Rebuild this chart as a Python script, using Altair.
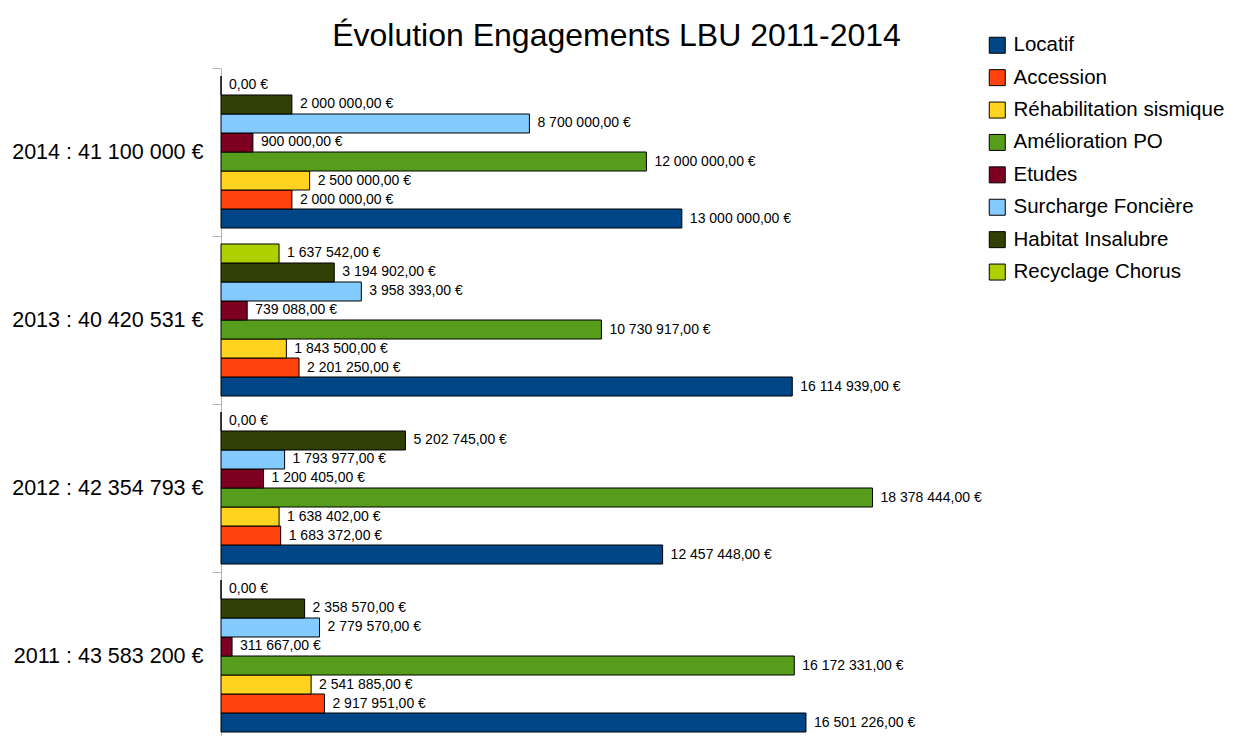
import altair as alt
import pandas as pd

years = ["2014", "2013", "2012", "2011"]
totals = ["41 100 000 €", "40 420 531 €", "42 354 793 €", "43 583 200 €"]
series = ["Locatif", "Accession", "Réhabilitation sismique", "Amélioration PO",
          "Etudes", "Surcharge Foncière", "Habitat Insalubre", "Recyclage Chorus"]
colors = ["#004586", "#ff420e", "#ffd320", "#579d1c",
          "#7e0021", "#83caff", "#314004", "#aecf00"]

# values per year, in series order
v2014 = [13000000, 2000000, 2500000, 12000000, 900000, 8700000, 2000000, 0]
v2013 = [16114939, 2201250, 1843500, 10730917, 739088, 3958393, 3194902, 1637542]
v2012 = [12457448, 1683372, 1638402, 18378444, 1200405, 1793977, 5202745, 0]
v2011 = [16501226, 2917951, 2541885, 16172331, 311667, 2779570, 2358570, 0]
values = {"2014": v2014, "2013": v2013, "2012": v2012, "2011": v2011}


def fmt(v):
    s = f"{v:,.2f}".replace(",", " ").replace(".", ",")
    return s + " €"


rows = []
for y, t in zip(years, totals):
    cat = f"{y} : {t}"
    for s, v in zip(series, values[y]):
        rows.append({"cat": cat, "serie": s, "val": v, "lab": fmt(v)})
df = pd.DataFrame(rows)
cats = [f"{y} : {t}" for y, t in zip(years, totals)]

FONT = "Liberation Sans"

y_enc = alt.Y("cat:N", sort=cats,
              scale=alt.Scale(paddingInner=0, paddingOuter=0),
              axis=alt.Axis(title=None, labelFontSize=21.5, labelFont=FONT,
                            labelColor="#000000", labelPadding=9, labelLimit=0,
                            tickSize=9, tickBand="extent", tickColor="#b3b3b3",
                            domainColor="#b3b3b3", grid=False))
yoff = alt.YOffset("serie:N", sort=list(reversed(series)),
                   scale=alt.Scale(paddingInner=0, paddingOuter=0.42))
x_enc = alt.X("val:Q", scale=alt.Scale(domain=[0, 20000000], nice=False), axis=None)

bars = alt.Chart(df).mark_bar(stroke="#000000", strokeWidth=1, opacity=1).encode(
    x=x_enc, y=y_enc, yOffset=yoff,
    color=alt.Color("serie:N", sort=series,
                    scale=alt.Scale(domain=series, range=colors),
                    legend=alt.Legend(title=None, orient="none", legendX=766, legendY=-33,
                                      symbolType="square", symbolSize=256,
                                      symbolStrokeColor="#000000", symbolStrokeWidth=1,
                                      symbolOpacity=1,
                                      labelFontSize=20.5, labelFont=FONT, labelColor="#000000",
                                      labelOffset=6, rowPadding=11.4, labelLimit=0)),
)

texts = alt.Chart(df).mark_text(align="left", baseline="middle", dx=8,
                                fontSize=14, font=FONT, color="#000000").encode(
    x=x_enc, y=y_enc, yOffset=yoff, text="lab:N")

chart = (bars + texts).properties(
    width=709, height=672,
    autosize=alt.AutoSizeParams(type="none"),
    padding={"left": 213, "top": 60, "right": 304, "bottom": 0},
    title=alt.TitleParams("Évolution Engagements LBU 2011-2014", fontSize=32, font=FONT,
                          fontWeight="normal", color="#000000", anchor="middle",
                          frame="group", dx=41, dy=30, offset=12),
).configure_view(stroke=None)

chart.save("out.html", embed_options={"renderer": "svg", "actions": False})
